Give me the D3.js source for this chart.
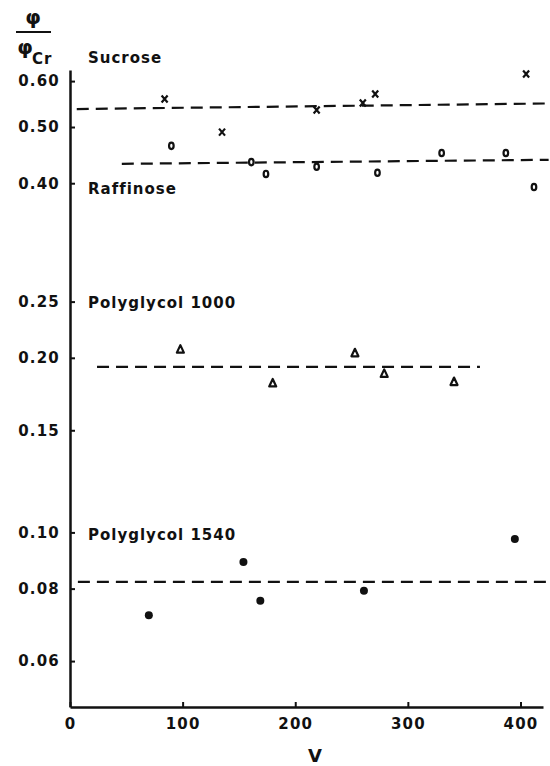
<!DOCTYPE html>
<html>
<head>
<meta charset="utf-8">
<script src="https://cdn.jsdelivr.net/npm/d3@7"></script>
<style>
  body { margin: 0; background: #fff; }
  text { font-family: "DejaVu Sans", sans-serif; fill: #111; font-weight: bold; }
</style>
</head>
<body>
<div id="chart"></div>
<script>
// values
const sucroseV = [84, 135, 219, 260, 271, 405];
const sucrosePhi = [0.559, 0.490, 0.535, 0.550, 0.570, 0.617];
const raffinoseV = [90, 161, 174, 219, 273, 330, 387, 412];
const raffinosePhi = [0.464, 0.435, 0.415, 0.427, 0.417, 0.451, 0.451, 0.394];
const pg1000V = [98, 180, 253, 279, 341];
const pg1000Phi = [0.207, 0.181, 0.204, 0.188, 0.182];
const pg1540V = [70, 154, 169, 261, 395];
const pg1540Phi = [0.072, 0.0889, 0.0762, 0.0793, 0.0974];

// dashed mean lines: [start V, end V], [start phi, end phi]
const sucroseLineV = [6, 425], sucroseLinePhi = [0.537, 0.549];
const raffinoseLineV = [46, 425], raffinoseLinePhi = [0.432, 0.439];
const pg1000LineV = [24, 364], pg1000LinePhi = [0.193, 0.193];
const pg1540LineV = [7, 426], pg1540LinePhi = [0.0822, 0.0822];

const yTicks = [0.06, 0.08, 0.10, 0.15, 0.20, 0.25, 0.40, 0.50, 0.60];
const xTicks = [0, 100, 200, 300, 400];

const width = 550, height = 766;

const svg = d3.select("#chart")
  .append("svg")
  .attr("width", width)
  .attr("height", height);

const x = d3.scaleLinear().domain([0, 420]).range([70, 543]);
const y = d3.scaleLog().domain([0.05, 0.627]).range([707, 70]);

// axes
svg.append("g")
  .attr("transform", "translate(70,0)")
  .call(d3.axisLeft(y).tickValues(yTicks).tickFormat(d3.format(".2f"))
    .tickSizeInner(-5).tickSizeOuter(0).tickPadding(10));
svg.append("g")
  .attr("transform", "translate(0,707)")
  .call(d3.axisBottom(x).tickValues(xTicks).tickFormat(d3.format("d"))
    .tickSizeInner(-5).tickSizeOuter(0).tickPadding(11));

svg.selectAll(".domain").attr("stroke", "#111").attr("stroke-width", 2.5);
svg.selectAll(".tick line").attr("stroke", "#111").attr("stroke-width", 2);
svg.selectAll(".tick text")
  .style("font-size", "15px")
  .style("letter-spacing", "1.2px")
  .attr("fill", "#111");

// dashed lines
const lines = [
  [sucroseLineV, sucroseLinePhi],
  [raffinoseLineV, raffinoseLinePhi],
  [pg1000LineV, pg1000LinePhi],
  [pg1540LineV, pg1540LinePhi]
];
svg.selectAll(".fit")
  .data(lines)
  .enter().append("line")
  .attr("class", "fit")
  .attr("x1", d => x(d[0][0]))
  .attr("x2", d => x(d[0][1]))
  .attr("y1", d => y(d[1][0]))
  .attr("y2", d => y(d[1][1]))
  .attr("stroke", "#111")
  .attr("stroke-width", 2.2)
  .attr("stroke-dasharray", "12,7");

// sucrose: x markers
svg.selectAll(".suc")
  .data(d3.zip(sucroseV, sucrosePhi))
  .enter().append("path")
  .attr("class", "suc")
  .attr("transform", d => `translate(${x(d[0])},${y(d[1])})`)
  .attr("d", "M-3,-3.5L3,3.5M3,-3.5L-3,3.5")
  .attr("stroke", "#111")
  .attr("stroke-width", 2.2);

// raffinose: small o
svg.selectAll(".raf")
  .data(d3.zip(raffinoseV, raffinosePhi))
  .enter().append("ellipse")
  .attr("class", "raf")
  .attr("cx", d => x(d[0]))
  .attr("cy", d => y(d[1]))
  .attr("rx", 2.3)
  .attr("ry", 3.2)
  .attr("fill", "none")
  .attr("stroke", "#111")
  .attr("stroke-width", 2.2);

// polyglycol 1000: triangles
svg.selectAll(".pg1000")
  .data(d3.zip(pg1000V, pg1000Phi))
  .enter().append("path")
  .attr("class", "pg1000")
  .attr("transform", d => `translate(${x(d[0])},${y(d[1])})`)
  .attr("d", "M0,-4L3.5,3.5L-3.5,3.5Z")
  .attr("fill", "none")
  .attr("stroke", "#111")
  .attr("stroke-width", 2.2)
  .attr("stroke-linejoin", "round");

// polyglycol 1540: filled dots
svg.selectAll(".pg1540")
  .data(d3.zip(pg1540V, pg1540Phi))
  .enter().append("circle")
  .attr("class", "pg1540")
  .attr("cx", d => x(d[0]))
  .attr("cy", d => y(d[1]))
  .attr("r", 4)
  .attr("fill", "#111");

// series labels
const labels = [
  ["Sucrose", 63],
  ["Raffinose", 194],
  ["Polyglycol 1000", 308],
  ["Polyglycol 1540", 540]
];
svg.selectAll(".lab")
  .data(labels)
  .enter().append("text")
  .attr("class", "lab")
  .attr("x", 88)
  .attr("y", d => d[1])
  .style("font-size", "15px")
  .style("letter-spacing", "1px")
  .text(d => d[0]);

// y axis title: phi / phi_Cr
svg.append("text").attr("x", 33).attr("y", 24)
  .attr("text-anchor", "middle").style("font-size", "20px").text("φ");
svg.append("line").attr("x1", 16).attr("x2", 51).attr("y1", 32).attr("y2", 32)
  .attr("stroke", "#111").attr("stroke-width", 2);
svg.append("text").attr("x", 25).attr("y", 54)
  .attr("text-anchor", "middle").style("font-size", "20px").text("φ");
svg.append("text").attr("x", 32).attr("y", 64)
  .style("font-size", "15px").style("letter-spacing", "1px").text("Cr");

// x axis title
svg.append("text").attr("x", 315).attr("y", 762)
  .attr("text-anchor", "middle").style("font-size", "18px").text("V");
</script>
</body>
</html>
